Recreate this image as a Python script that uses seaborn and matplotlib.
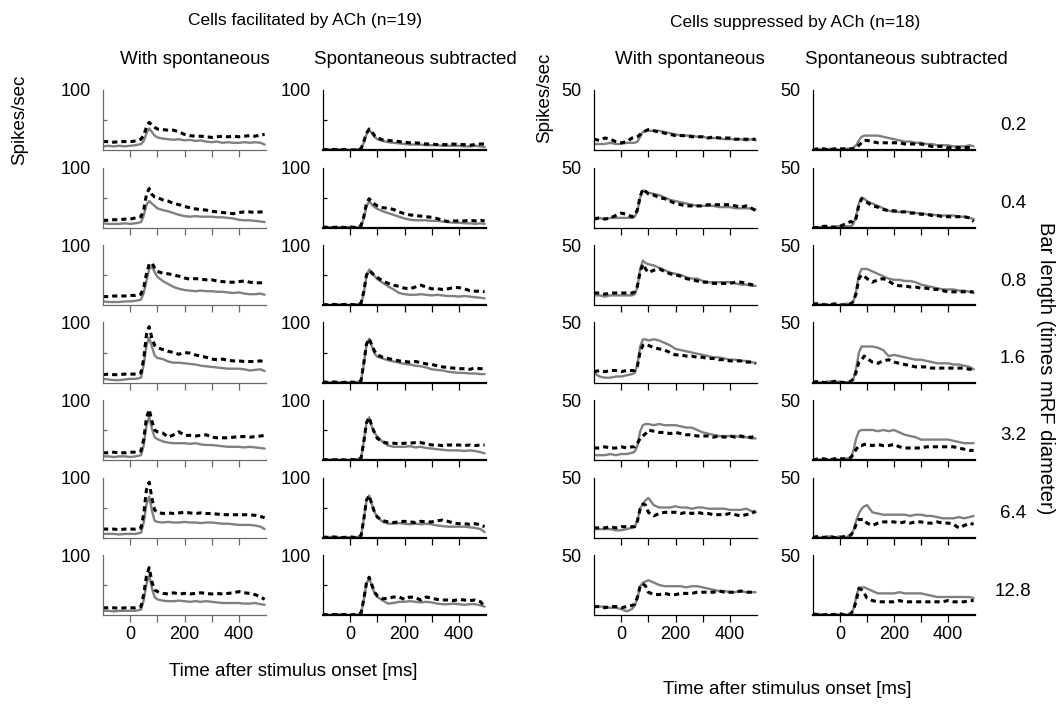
import numpy as np
import pandas as pd
import matplotlib
matplotlib.use("Agg")
import matplotlib.pyplot as plt
import seaborn as sns

sns.set_theme(style="white")
plt.rcParams['font.family'] = ['Liberation Sans', 'DejaVu Sans']
plt.rcParams['text.color'] = 'black'
plt.rcParams['xtick.color'] = 'black'
plt.rcParams['ytick.color'] = 'black'

# ---------------- data ----------------
TIME_MS = [-100, -80, -60, -40, -20, 0, 20, 40, 50, 60, 70, 80, 90, 100, 120, 140, 160, 180,
           200, 220, 240, 260, 280, 300, 320, 340, 360, 380, 400, 420, 440, 460, 480, 495]
ROW_LABELS = ["0.2", "0.4", "0.8", "1.6", "3.2", "6.4", "12.8"]
X_TICKS = [0, 100, 200, 300, 400]
X_TICK_LABELS = ["0", "", "200", "", "400"]
GROUP_TITLES = ["Cells facilitated by ACh (n=19)", "Cells suppressed by ACh (n=18)"]
COL_TITLES = ["With spontaneous", "Spontaneous subtracted", "With spontaneous", "Spontaneous subtracted"]
Y_TOP = [100, 100, 50, 50]

# Facilitated cells, with spontaneous (gray = control, dashed = ACh)
FW_CTL_02 = [6,7,6,7,6,7,8,10,15,28,36,30,24,21,19,18,17,18,16,17,15,16,14,13,14,12,13,12,12,13,12,13,12,9]
FW_ACH_02 = [14,14,13,14,14,14,15,18,25,38,46,42,38,35,34,33,33,30,26,24,23,23,22,21,22,23,22,23,22,23,24,23,25,26]
FW_CTL_04 = [7,6,6,6,7,6,7,9,20,38,44,40,36,32,29,27,24,21,19,18,19,18,18,18,17,17,16,15,13,12,12,11,10,9]
FW_ACH_04 = [12,12,13,13,14,14,16,18,30,55,65,55,51,50,46,44,40,38,35,33,31,30,29,27,26,25,24,23,25,26,26,25,26,26]
FW_CTL_08 = [6,5,5,5,6,6,7,9,20,40,60,64,55,47,40,35,30,27,25,24,23,24,23,23,22,22,21,20,21,19,18,18,19,17]
FW_ACH_08 = [14,14,15,15,15,16,16,18,30,52,68,70,62,56,53,52,50,48,45,43,44,43,42,42,40,39,38,38,39,40,38,37,37,38]
FW_CTL_16 = [6,5,4,4,5,6,6,8,30,62,75,60,45,41,39,35,33,33,32,31,30,28,27,26,25,24,23,23,23,22,20,21,22,19]
FW_ACH_16 = [13,14,13,13,14,14,14,16,40,80,93,74,62,58,55,52,50,47,50,49,46,44,42,39,38,39,37,36,36,35,35,35,36,35]
FW_CTL_32 = [6,6,5,6,6,5,6,8,25,58,72,52,38,35,31,29,28,28,28,27,28,26,25,25,24,23,22,22,22,21,22,21,20,19]
FW_ACH_32 = [12,12,13,12,12,13,13,15,35,70,84,65,50,47,45,38,42,47,41,41,40,41,42,38,37,37,37,38,39,39,38,39,40,41]
FW_CTL_64 = [6,6,6,5,6,6,6,8,25,55,68,45,28,26,25,26,25,25,26,25,25,24,25,25,24,23,23,22,21,21,21,20,18,14]
FW_ACH_64 = [14,14,14,13,14,14,14,16,40,80,92,65,46,42,40,41,40,41,42,41,40,41,40,40,39,38,38,38,38,38,38,37,35,33]
FW_CTL_128 = [7,7,6,7,7,7,7,9,25,52,66,45,30,26,24,23,23,24,23,22,23,22,23,22,21,20,20,20,20,19,19,20,18,17]
FW_ACH_128 = [12,12,12,11,12,12,12,14,35,65,79,55,42,39,36,35,37,35,36,35,36,37,36,35,36,35,36,37,39,37,36,34,30,26]

# Facilitated cells, spontaneous subtracted
FS_CTL_02 = [0,1,0,1,0,0,1,2,12,26,34,28,22,18,15,13,12,11,10,9,9,9,8,8,8,7,7,7,7,6,6,7,6,5]
FS_ACH_02 = [1,0,1,0,1,0,0,2,14,28,35,30,24,20,17,16,15,14,13,12,12,11,10,10,9,9,9,10,9,9,8,9,10,10]
FS_CTL_04 = [0,0,1,0,0,1,0,2,15,35,44,38,34,31,27,24,21,18,15,13,12,12,12,11,11,10,9,8,8,7,7,6,7,6]
FS_ACH_04 = [1,0,0,1,0,1,0,3,18,40,48,42,39,36,33,32,30,26,23,21,20,19,18,17,15,12,10,11,11,11,12,11,12,11]
FS_CTL_08 = [0,0,0,1,0,0,1,2,20,48,59,55,48,43,37,31,26,20,18,17,17,18,17,16,17,16,15,15,14,15,14,13,12,11]
FS_ACH_08 = [1,0,1,0,1,1,0,3,22,50,57,53,49,46,40,36,33,31,28,27,30,33,30,27,27,26,27,29,29,27,24,23,23,22]
FS_CTL_16 = [1,0,0,0,1,0,0,3,30,62,73,60,48,43,40,37,35,33,31,30,28,27,25,22,21,20,18,17,16,16,15,15,14,14]
FS_ACH_16 = [1,0,1,0,0,1,0,3,32,64,73,62,52,46,42,40,38,36,35,34,35,33,31,30,28,26,25,24,23,23,22,24,23,23]
FS_CTL_32 = [0,0,1,0,0,0,1,3,30,62,71,55,45,39,30,24,22,22,22,23,21,22,20,19,18,17,16,16,16,15,16,15,13,11]
FS_ACH_32 = [1,0,0,1,0,1,0,3,30,62,71,56,45,36,30,28,28,27,28,28,29,29,27,25,25,24,25,25,25,24,25,24,25,25]
FS_CTL_64 = [0,1,0,0,1,0,0,3,30,62,70,55,42,34,26,23,23,24,23,22,23,22,23,22,20,19,18,18,18,18,17,16,14,9]
FS_ACH_64 = [1,0,1,0,0,1,0,3,30,62,70,55,42,34,28,26,25,26,27,26,25,27,26,26,28,29,27,24,23,23,22,23,21,18]
FS_CTL_128 = [0,0,0,1,0,0,0,2,25,52,62,48,36,30,24,19,20,22,22,23,22,21,22,21,19,18,18,19,18,17,18,18,16,14]
FS_ACH_128 = [1,0,1,0,1,0,1,3,26,54,63,50,38,32,27,28,30,30,26,30,29,25,30,28,26,25,25,24,26,25,24,25,22,14]

# Suppressed cells, with spontaneous
SW_CTL_02 = [5,5,5,6,5,5,6,6,6,7,11,15,16,16,16,16,15,14,13,12,12,12,11,11,10,10,10,9,9,9,9,8,9,8]
SW_ACH_02 = [9,8,10,9,7,6,7,10,10,11,13,15,16,17,16,15,14,13,12,12,12,11,11,11,10,11,10,10,10,9,9,9,9,9]
SW_CTL_04 = [8,8,7,8,8,8,8,8,9,14,25,31,30,29,28,27,25,23,22,21,20,19,18,18,18,18,17,17,17,16,16,16,16,15]
SW_ACH_04 = [7,8,7,8,10,12,11,9,10,15,26,32,30,28,27,25,24,22,20,19,18,18,18,18,19,19,19,19,19,18,17,18,16,14]
SW_CTL_08 = [8,8,7,8,8,8,8,8,9,15,30,37,35,34,33,31,29,27,26,25,23,22,22,20,19,19,19,19,19,18,17,17,16,16]
SW_ACH_08 = [10,10,9,10,10,10,10,10,11,16,28,34,30,27,29,30,28,26,25,24,22,21,20,19,19,18,18,18,18,19,19,18,17,16]
SW_CTL_16 = [8,5,4,4,5,5,6,7,8,15,30,36,36,35,36,35,33,31,28,27,26,25,24,23,22,21,21,20,19,19,18,18,17,16]
SW_ACH_16 = [9,10,9,10,10,9,10,10,10,14,26,31,32,31,29,28,27,25,23,23,22,22,21,21,20,20,19,19,18,18,18,17,17,16]
SW_CTL_32 = [4,4,4,5,4,5,5,6,7,12,24,29,30,30,29,30,29,29,29,28,27,27,25,23,22,21,20,20,20,20,19,19,18,18]
SW_ACH_32 = [10,10,11,10,10,11,10,11,11,14,18,20,22,25,24,23,23,22,23,22,21,21,20,20,20,19,20,19,20,19,20,19,19,20]
SW_CTL_64 = [7,7,7,7,6,6,7,8,9,14,24,28,31,33,27,25,25,25,26,25,25,24,25,25,24,24,24,24,23,23,23,24,22,21]
SW_ACH_64 = [8,8,8,9,8,9,9,9,9,14,24,28,27,21,18,20,21,21,21,20,21,20,21,20,20,19,19,19,20,19,18,19,20,22]
SW_CTL_128 = [7,7,7,6,6,5,3,5,8,14,24,27,28,29,27,25,24,24,24,24,23,24,24,23,22,21,20,20,19,19,20,19,19,19]
SW_ACH_128 = [7,7,6,7,7,6,7,8,9,15,24,26,24,19,17,17,18,17,17,18,18,18,19,19,19,19,20,19,19,19,20,19,19,19]

# Suppressed cells, spontaneous subtracted
SS_CTL_02 = [1,1,0,1,1,0,1,1,2,4,8,11,12,12,12,12,11,10,9,8,7,7,6,6,5,5,4,4,4,3,3,3,4,3]
SS_ACH_02 = [0,1,1,0,1,1,1,1,1,2,4,6,8,8,7,6,6,6,6,6,5,5,5,5,4,3,3,3,2,2,2,2,2,2]
SS_CTL_04 = [0,0,1,0,1,1,1,1,3,10,20,25,24,22,20,18,16,14,13,13,13,13,12,12,11,11,10,10,10,10,9,9,8,7]
SS_ACH_04 = [0,0,1,1,0,1,3,5,4,8,19,24,22,21,18,17,15,14,14,13,13,12,12,11,11,10,10,9,9,9,9,9,8,5]
SS_CTL_08 = [0,0,1,0,0,0,1,1,3,12,25,30,30,30,28,26,24,22,21,21,20,20,19,17,16,15,14,13,13,13,12,12,11,10]
SS_ACH_08 = [1,1,0,0,1,0,0,1,3,10,22,25,24,22,19,21,22,20,17,16,16,15,15,14,14,13,13,12,11,11,11,11,11,11]
SS_CTL_16 = [1,0,0,1,0,1,0,1,3,12,25,30,30,30,30,29,27,22,23,22,21,20,19,19,18,17,16,16,16,15,15,14,13,11]
SS_ACH_16 = [0,1,0,0,1,0,0,1,3,9,17,19,22,20,17,16,18,19,17,16,15,14,13,13,13,12,12,12,12,12,12,12,11,11]
SS_CTL_32 = [1,0,1,0,1,0,1,2,8,18,24,25,25,25,25,24,25,24,25,23,21,20,19,17,17,17,17,17,17,16,15,14,14,14]
SS_ACH_32 = [0,1,1,0,1,1,1,2,5,9,12,12,13,13,12,13,12,12,13,11,10,10,10,10,11,11,11,11,11,11,10,9,8,8]
SS_CTL_64 = [1,0,0,1,0,1,0,2,6,14,20,24,26,27,21,20,19,19,19,19,19,18,19,19,18,18,17,16,16,16,17,16,17,18]
SS_ACH_64 = [0,1,0,1,0,0,1,2,5,11,15,15,15,12,10,12,13,13,13,12,13,12,13,13,12,12,13,12,12,11,8,10,12,11]
SS_CTL_128 = [0,1,0,0,1,0,0,1,5,15,23,23,23,22,20,18,18,18,18,19,18,18,18,18,17,16,15,15,15,15,15,15,15,14]
SS_ACH_128 = [1,0,0,1,0,1,0,1,4,12,22,21,18,14,12,11,11,11,11,12,11,11,11,11,11,11,11,11,12,11,11,11,12,12]

COLUMNS = [
    ([FW_CTL_02, FW_CTL_04, FW_CTL_08, FW_CTL_16, FW_CTL_32, FW_CTL_64, FW_CTL_128],
     [FW_ACH_02, FW_ACH_04, FW_ACH_08, FW_ACH_16, FW_ACH_32, FW_ACH_64, FW_ACH_128]),
    ([FS_CTL_02, FS_CTL_04, FS_CTL_08, FS_CTL_16, FS_CTL_32, FS_CTL_64, FS_CTL_128],
     [FS_ACH_02, FS_ACH_04, FS_ACH_08, FS_ACH_16, FS_ACH_32, FS_ACH_64, FS_ACH_128]),
    ([SW_CTL_02, SW_CTL_04, SW_CTL_08, SW_CTL_16, SW_CTL_32, SW_CTL_64, SW_CTL_128],
     [SW_ACH_02, SW_ACH_04, SW_ACH_08, SW_ACH_16, SW_ACH_32, SW_ACH_64, SW_ACH_128]),
    ([SS_CTL_02, SS_CTL_04, SS_CTL_08, SS_CTL_16, SS_CTL_32, SS_CTL_64, SS_CTL_128],
     [SS_ACH_02, SS_ACH_04, SS_ACH_08, SS_ACH_16, SS_ACH_32, SS_ACH_64, SS_ACH_128]),
]

# ---------------- layout (pixels) ----------------
W, H = 1060, 707
fig = plt.figure(figsize=(W / 100, H / 100), dpi=100)
COL_LEFT = [103, 323, 594, 813]
COL_W = [163, 163, 163, 162]
ROW_BASE = [150 + 77.5 * i for i in range(7)]
PANEL_H = 60

def fx(px):
    return px / W

def fy(py):
    return 1 - py / H

GRAY = "#808080"
TICK_FS = 13
TXT_FS = 13.5

for c, (ctl_rows, ach_rows) in enumerate(COLUMNS):
    for r in range(7):
        ax = fig.add_axes([fx(COL_LEFT[c]), fy(ROW_BASE[r]), COL_W[c] / W, PANEL_H / H])
        df_c = pd.DataFrame({"time": TIME_MS, "rate": ctl_rows[r]})
        df_a = pd.DataFrame({"time": TIME_MS, "rate": ach_rows[r]})
        sns.lineplot(data=df_c, x="time", y="rate", ax=ax, color=GRAY, lw=1.7,
                     estimator=None, legend=False)
        sns.lineplot(data=df_a, x="time", y="rate", ax=ax, color="black", lw=2.2,
                     estimator=None, legend=False, linestyle=(0, (1.7, 1.3)))
        ax.set_xlim(-100, 500)
        ax.set_ylim(0, Y_TOP[c])
        ax.set_xlabel("")
        ax.set_ylabel("")
        for s in ["top", "right"]:
            ax.spines[s].set_visible(False)
        spine_col = "#6a6a6a" if c == 0 else "black"
        ax.spines["left"].set_color(spine_col)
        ax.spines["bottom"].set_color(spine_col)
        ax.spines["left"].set_linewidth(0.9)
        ax.spines["bottom"].set_linewidth(1.6 if c in (1, 3) else 0.9)
        ax.set_xticks(X_TICKS)
        if r == 6:
            ax.set_xticklabels(X_TICK_LABELS, fontsize=TICK_FS)
        else:
            ax.set_xticklabels([])
        ax.tick_params(axis="x", direction="out", length=5, width=0.9, colors=spine_col,
                       labelcolor="black", pad=3, bottom=True)
        ax.set_yticks([Y_TOP[c]])
        ax.set_yticklabels([str(Y_TOP[c])], fontsize=TICK_FS)
        ax.tick_params(axis="y", length=0, pad=9, left=True, labelcolor="black")
        if c < 2:
            ax.set_yticks([Y_TOP[c] / 2], minor=True)
            ax.tick_params(axis="y", which="minor", direction="in", length=3, width=0.9,
                           colors=spine_col, left=True)
        ax.patch.set_alpha(0)

# ---------------- text ----------------
fig.text(fx(305), fy(21), GROUP_TITLES[0], ha="center", va="center", fontsize=12.5, color="black")
fig.text(fx(795), fy(23), GROUP_TITLES[1], ha="center", va="center", fontsize=12.5, color="black")
for x, t in zip([195, 415, 690, 906], COL_TITLES):
    fig.text(fx(x), fy(60), t, ha="center", va="center", fontsize=TXT_FS, color="black")
fig.text(fx(20), fy(120), "Spikes/sec", rotation=90, ha="center", va="center",
         fontsize=TXT_FS, color="black")
fig.text(fx(545), fy(98), "Spikes/sec", rotation=90, ha="center", va="center",
         fontsize=TXT_FS, color="black")
for r, lab in enumerate(ROW_LABELS):
    fig.text(fx(1013), fy(126 + 77.5 * r), lab, ha="center", va="center",
             fontsize=TXT_FS, color="black")
fig.text(fx(1046), fy(368), "Bar length (times mRF diameter)", rotation=-90,
         ha="center", va="center", fontsize=14.5, color="black")
fig.text(fx(293), fy(672), "Time after stimulus onset [ms]", ha="center", va="center",
         fontsize=TXT_FS, color="black")
fig.text(fx(787), fy(690), "Time after stimulus onset [ms]", ha="center", va="center",
         fontsize=TXT_FS, color="black")

fig.savefig("out.png", dpi=100, facecolor="white")
